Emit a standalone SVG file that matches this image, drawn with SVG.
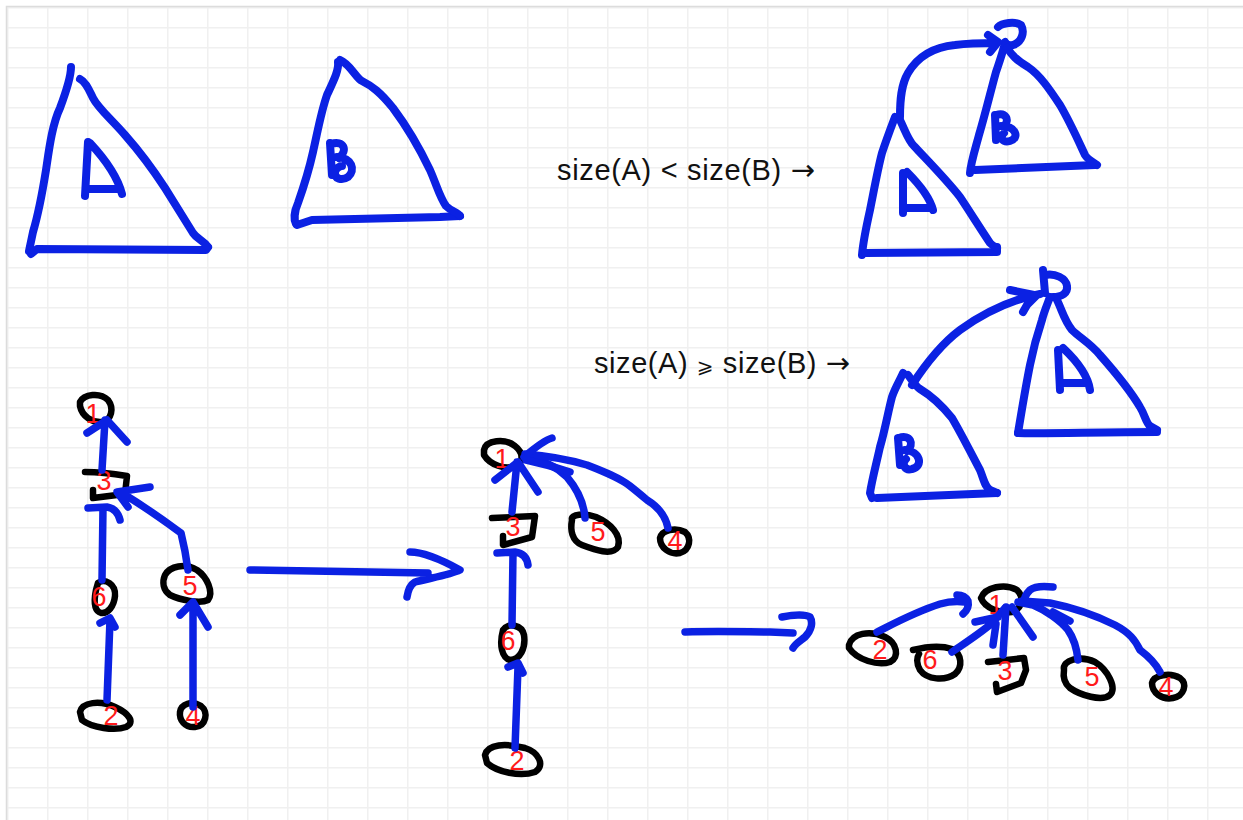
<svg xmlns="http://www.w3.org/2000/svg" width="1243" height="820" viewBox="0 0 1243 820">
<defs>
<pattern id="grid" x="7" y="7" width="40" height="20" patternUnits="userSpaceOnUse">
<path d="M0 0.75 H40 M0.75 0 V20" fill="none" stroke="#f0f0f0" stroke-width="1.5"/>
</pattern>
<style>
.b{fill:none;stroke:#0b21e3;stroke-width:8;stroke-linecap:round;stroke-linejoin:round}
.bt{fill:none;stroke:#0b21e3;stroke-width:7.5;stroke-linecap:round;stroke-linejoin:round}
.k{fill:none;stroke:#000;stroke-width:6.5;stroke-linecap:round;stroke-linejoin:round}
.n{font-family:"Liberation Sans",Arial,sans-serif;font-size:27px;fill:#ff1a1a;text-anchor:middle}
.t{font-family:"Liberation Sans","DejaVu Sans",Arial,sans-serif;font-size:29px;fill:#111}
.ar{font-family:"DejaVu Sans",sans-serif}
.ge{font-family:"DejaVu Sans",sans-serif;font-size:20px}
</style>
</defs>
<rect width="1243" height="820" fill="#fff"/>
<rect x="7" y="7" width="1236" height="813" fill="url(#grid)"/>
<path d="M6.5 820 V6.5 H1243" fill="none" stroke="#dcdcdc" stroke-width="1.5"/>

<!-- top-left triangles -->
<g id="triA">
<path class="b" d="M71,67 C71,78 66,92 60,108 C52,125 49,150 46,170 C42,195 38,215 33,232 L29,251"/>
<path class="b" d="M31,254 L37,249 L206,250 L208,247"/>
<path class="b" d="M80,79 C86,82 89,90 93,98 C98,108 110,118 125,135 C140,152 150,165 165,188 L193,233 C197,239 203,240 208,247"/>
<path class="b" d="M88,142 L85,196 M90,143 C104,158 117,175 122,194 M87,189 L119,189"/>
</g>
<g id="triB">
<path class="b" d="M338,62 C339,70 334,80 327,95 C321,112 318,130 313,152 C309,170 304,186 298,203 C294,212 294,220 296,224"/>
<path class="b" d="M297,225 L312,220 L440,217 L460,216"/>
<path class="b" d="M340,60 C350,64 356,78 362,81 C372,86 380,92 393,108 C405,124 418,145 430,170 C437,186 440,198 446,206 C452,212 458,212 460,216"/>
<path class="b" d="M330,143 L332,175 M331,144 C344,140 348,150 339,158 M337,157 C352,158 356,170 348,177 C342,181 334,179 335,172 C336,168 340,166 342,166"/>
</g>

<g id="label1"><text class="t" x="557" y="180" textLength="258" lengthAdjust="spacing">size(A) &lt; size(B) <tspan class="ar">→</tspan></text></g>
<g id="label2"><text class="t" x="594" y="373" textLength="256" lengthAdjust="spacing">size(A) <tspan class="ge">⩾</tspan> size(B) <tspan class="ar">→</tspan></text></g>

<!-- case 1 result -->
<g id="res1A">
<path class="b" d="M895,117 C892,125 887,138 882,153 C878,168 874,190 870,210 C866,228 863,243 862,255"/>
<path class="b" d="M865,253 L997,252 L997,247"/>
<path class="b" d="M900,120 C905,130 908,140 914,146 C925,158 945,178 960,197 C970,212 980,228 990,243 C994,247 996,247 997,248"/>
<path class="b" d="M903,173 L903,213 M907,172 C920,185 930,198 933,210 M905,208 L932,208"/>
</g>
<g id="res1B">
<path class="b" d="M998,27 C1002,23 1015,21 1021,25 C1025,32 1022,42 1013,45 C1009,46 1006,44 1005,42"/>
<path class="b" d="M1005,43 C1002,55 999,63 996,72 C991,90 985,115 979,135 C975,150 971,162 970,173"/>
<path class="b" d="M975,170 L1095,165"/>
<path class="b" d="M1007,48 C1012,55 1016,60 1028,67 C1040,75 1050,90 1060,105 C1070,122 1078,140 1085,155 C1088,160 1093,162 1097,165"/>
<path class="b" d="M995,115 L996,140 M996,115 C1006,112 1010,120 1004,126 M1001,126 C1016,126 1020,138 1010,141 C1003,143 999,138 1004,133"/>
</g>
<!-- case 2 result -->
<g id="res2B">
<path class="b" d="M903,373 C900,380 895,388 892,397 C888,412 885,430 880,447 C876,465 872,480 870,493 L872,498"/>
<path class="b" d="M877,498 L997,493"/>
<path class="b" d="M908,375 C912,380 915,386 920,389 C930,395 940,403 952,418 C962,435 972,455 980,470 C984,480 985,487 990,490 L997,493"/>
<path class="b" d="M898,438 L900,465 M899,438 C910,434 915,444 907,451 M905,450 C920,451 924,466 912,469 C905,471 901,464 906,459"/>
</g>
<g id="res2A">
<path class="b" d="M1043,270 L1045,293 M1045,275 C1055,273 1066,278 1067,286 C1068,293 1062,297 1053,297"/>
<path class="b" d="M1050,297 C1047,305 1044,312 1042,320 C1037,335 1033,350 1030,365 C1025,390 1021,415 1018,433"/>
<path class="b" d="M1018,433 C1040,434 1100,432 1157,432"/>
<path class="b" d="M1057,300 C1062,310 1064,320 1072,330 C1080,338 1090,343 1100,355 C1115,372 1130,390 1140,407 C1145,415 1146,423 1150,426 L1157,430"/>
<path class="b" d="M1058,350 L1060,390 M1063,348 C1078,362 1088,376 1090,390 M1063,383 L1088,383"/>
</g>

<!-- left tree nodes -->
<g id="L1"><path class="k" d="M80,402 C84,394 100,392 108,400 C114,408 112,420 102,422 C92,423 82,416 80,406 Z"/><text class="n" x="93" y="423">1</text></g>
<g id="L3"><path class="k" d="M85,472 C100,472 115,474 127,476 L125,494 L93,498 L93,490"/><text class="n" x="104" y="490">3</text></g>
<g id="L6"><path class="k" d="M98,583 C105,578 116,584 115,596 C114,606 108,614 101,613 C94,611 94,600 96,590 Z"/><text class="n" x="99" y="606">6</text></g>
<g id="L2"><path class="k" d="M80,712 C82,702 100,700 115,707 C128,713 136,722 126,727 C115,731 92,728 82,720 Z"/><text class="n" x="111" y="725">2</text></g>
<g id="L5"><path class="k" d="M165,575 C170,566 185,563 197,570 C207,577 214,592 208,600 C200,604 180,600 170,595 C163,590 162,582 165,575 Z"/><text class="n" x="190" y="595">5</text></g>
<g id="L4"><path class="k" d="M180,712 C181,704 192,700 201,706 C209,712 206,726 195,727 C185,728 179,720 180,712 Z"/><text class="n" x="193" y="725">4</text></g>

<!-- middle tree nodes -->
<g id="M1"><path class="k" d="M484,450 C486,440 505,438 515,446 C523,452 524,462 516,466 C505,470 490,465 484,455 Z"/><text class="n" x="502" y="468">1</text></g>
<g id="M3"><path class="k" d="M492,518 L535,516 L532,537 L503,545 L503,536"/><text class="n" x="513" y="536">3</text></g>
<g id="M5"><path class="k" d="M572,520 C570,514 585,513 596,517 C610,523 622,535 618,547 C612,556 595,550 582,545 C572,541 570,530 572,520 Z"/><text class="n" x="598" y="541">5</text></g>
<g id="M4"><path class="k" d="M660,538 C662,530 675,527 685,532 C692,538 690,550 680,553 C670,555 660,548 660,538 Z"/><text class="n" x="675" y="550">4</text></g>
<g id="M6"><path class="k" d="M503,630 C508,622 522,625 524,635 C526,648 520,660 510,660 C502,658 499,645 503,630 Z"/><text class="n" x="508" y="650">6</text></g>
<g id="M2"><path class="k" d="M485,755 C488,744 505,743 525,748 C538,752 546,765 535,772 C520,777 497,772 487,763 Z"/><text class="n" x="517" y="770">2</text></g>

<!-- right tree nodes -->
<g id="R1"><path class="k" d="M981,598 C985,587 1005,583 1017,590 C1024,597 1023,608 1012,612 C1000,614 985,608 981,598 Z"/><text class="n" x="996" y="614">1</text></g>
<g id="R2"><path class="k" d="M849,645 C852,633 870,630 885,637 C897,643 900,657 890,662 C878,666 857,660 849,648 Z"/><text class="n" x="880" y="659">2</text></g>
<g id="R6"><path class="k" d="M913,650 C925,647 940,645 952,649 C962,654 963,667 955,674 C945,681 927,680 920,670 C916,663 917,657 919,654"/><text class="n" x="930" y="669">6</text></g>
<g id="R3"><path class="k" d="M988,662 L1024,658 L1026,670 L1021,683 L997,692 L996,684"/><text class="n" x="1005" y="680">3</text></g>
<g id="R5"><path class="k" d="M1064,670 C1062,660 1080,655 1095,662 C1108,670 1117,688 1110,695 C1102,702 1080,695 1070,688 C1064,683 1063,676 1064,670 Z"/><text class="n" x="1092" y="686">5</text></g>
<g id="R4"><path class="k" d="M1152,683 C1154,675 1170,672 1180,678 C1188,684 1184,696 1173,698 C1162,700 1152,693 1152,683 Z"/><text class="n" x="1166" y="696">4</text></g>

<!-- connectors -->
<g id="connectors">
<path class="b" d="M900,117 C900,100 901,85 908,73 C918,56 935,47 955,45 C970,43 985,43 997,43 M988,35 L998,42 L990,52"/>
<path class="b" d="M912,385 C925,365 940,345 960,330 C985,312 1010,300 1040,294 M1010,290 L1034,295 M1023,312 L1027,305 L1036,296"/>

<path class="bt" d="M102,470 L105,420 M87,433 L107,420 L127,442"/>
<path class="bt" d="M102,580 L103,508 M88,508 L107,507 C113,508 118,512 120,520"/>
<path class="bt" d="M188,570 C186,555 184,545 181,533 C170,525 150,510 122,493 M150,487 L117,492 L128,507"/>
<path class="bt" d="M107,700 L110,620 M100,623 L110,618 L115,627"/>
<path class="bt" d="M193,707 L193,603 M180,615 L193,602 L208,627"/>

<path class="bt" d="M250,570 L428,573 M410,552 C420,552 433,555 460,570 C450,575 430,578 415,582 C410,585 408,590 407,597"/>

<path class="bt" d="M512,512 L517,462 M495,480 L518,462 L538,492"/>
<path class="bt" d="M585,518 C584,505 578,490 567,477 C555,465 540,460 528,458"/>
<path class="bt" d="M668,528 C666,518 660,508 647,500 C640,494 635,490 630,486 C620,478 605,472 587,465 C570,460 550,456 525,454"/>
<path class="bt" d="M552,438 C545,440 538,445 524,457 M570,472 C555,467 540,463 526,460"/>
<path class="bt" d="M512,625 L513,553 M497,553 L515,552 C522,553 527,557 528,565"/>
<path class="bt" d="M515,748 L518,667 M508,667 L518,663 L523,673"/>

<path class="bt" d="M685,632 C720,631 750,632 770,632 L793,633 M782,617 C792,615 805,614 810,617 C813,622 812,630 805,637 C800,641 795,644 793,648"/>

<path class="bt" d="M877,632 C895,623 915,612 940,604 C950,601 958,601 965,602 M957,595 C962,595 966,597 968,601 C969,606 968,610 963,614"/>
<path class="bt" d="M952,652 C965,643 985,630 993,622 L1005,608 M975,622 L998,617 M993,645 L996,624"/>
<path class="bt" d="M1003,655 L1006,607 M1012,607 L1033,637"/>
<path class="bt" d="M1078,660 C1077,650 1075,640 1068,630 C1060,620 1045,610 1033,605 L1018,602 M1053,612 L1070,621"/>
<path class="bt" d="M1160,672 C1155,662 1148,656 1140,650 C1135,640 1130,633 1115,625 C1095,615 1070,607 1050,603 L1022,601 M1053,587 C1045,586 1035,586 1030,590 C1026,594 1024,598 1024,602"/>
</g>
</svg>
